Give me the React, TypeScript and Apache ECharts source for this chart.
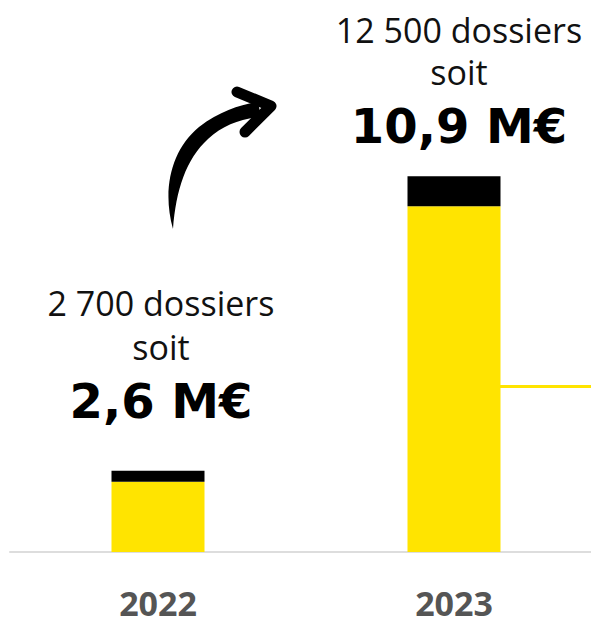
import React, { useEffect, useRef } from "react";
import * as echarts from "echarts";

const categories = ["2022", "2023"];
const yellowValues = [2340, 11500];
const blackValues = [360, 1000];
const dossierLabels = ["2 700 dossiers", "12 500 dossiers"];
const amountLabels = ["2,6 M€", "10,9 M€"];
const referenceLine = 5500;

const YELLOW = "#ffe400";

const ARROW_BODY =
  "M 173 229 C 162 190 171 150 199 127 C 220 111 240 105 258 102 L 261 117 C 241 119 223 125 208 139 C 186 159 176 190 173 229 Z";

let registered = false;

export default function App() {
  const ref = useRef<HTMLDivElement>(null);

  useEffect(() => {
    document.body.style.margin = "0";
    document.body.style.overflow = "hidden";
    if (!ref.current) return;
    if (!registered) {
      echarts.graphic.registerShape("arrowBody", echarts.graphic.extendPath(ARROW_BODY, {}) as any);
      registered = true;
    }
    const chart = echarts.init(ref.current, undefined, { renderer: "svg" });
    const labelDistances = [37, 18];
    const labelOffsets = [[3, 0], [5, 0]];
    const lineHeights = [44, 42];
    chart.setOption({
      animation: false,
      grid: { left: 10, right: 28, top: 11, bottom: 65 },
      xAxis: {
        type: "category",
        data: categories,
        axisTick: { show: false },
        axisLine: { lineStyle: { color: "#dddddd", width: 2 } },
        axisLabel: {
          margin: 37,
          lineHeight: 28,
          fontFamily: "Open Sans",
          fontWeight: "bold",
          fontSize: 34,
          color: "#555555",
        },
      },
      yAxis: {
        type: "value",
        min: 0,
        max: 18000,
        show: false,
        splitLine: { show: false },
      },
      series: [
        {
          type: "bar",
          stack: "total",
          barWidth: 93,
          itemStyle: { color: YELLOW },
          data: yellowValues,
          markLine: {
            silent: true,
            symbol: ["none", "none"],
            label: { show: false },
            lineStyle: { color: YELLOW, width: 3, type: "solid" },
            data: [
              [
                { xAxis: categories[1], yAxis: referenceLine },
                { xAxis: categories[1], yAxis: referenceLine, x: "100%" },
              ],
            ],
          },
        },
        {
          type: "bar",
          stack: "total",
          barWidth: 93,
          itemStyle: { color: "#000000" },
          data: blackValues.map((v, i) => ({
            value: v,
            label: {
              show: true,
              position: "top",
              distance: labelDistances[i],
              offset: labelOffsets[i],
              align: "center",
              formatter: `{a|${dossierLabels[i]}}\n{a|soit}\n{b|${amountLabels[i]}}`,
              rich: {
                a: {
                  fontFamily: "Open Sans",
                  fontSize: 34,
                  lineHeight: lineHeights[i],
                  color: "#111111",
                  align: "center",
                },
                b: {
                  fontFamily: "DejaVu Sans",
                  fontWeight: "bold",
                  fontSize: 48,
                  lineHeight: 65,
                  color: "#000000",
                  align: "center",
                },
              },
            },
          })),
        },
      ],
      graphic: [
        {
          type: "group",
          x: 0,
          y: 0,
          silent: true,
          children: [
            {
              type: "arrowBody",
              style: { fill: "#000000" },
            },
            {
              type: "polyline",
              shape: { points: [[237, 92], [271, 106], [245, 132]] },
              style: {
                stroke: "#000000",
                lineWidth: 11,
                lineCap: "round",
                lineJoin: "round",
                fill: null,
              },
            },
          ],
        },
      ],
    });
    return () => chart.dispose();
  }, []);

  return (
    <div style={{ width: 591, height: 620, overflow: "hidden", position: "relative" }}>
      <div ref={ref} style={{ width: 630, height: 620 }} />
    </div>
  );
}
